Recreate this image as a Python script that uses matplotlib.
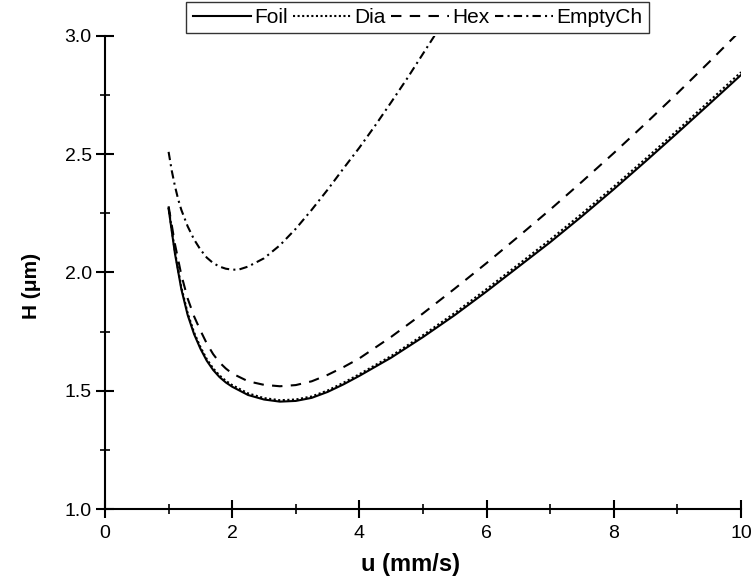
import matplotlib
matplotlib.use("Agg")
import matplotlib.pyplot as plt
from matplotlib.ticker import MultipleLocator, FormatStrFormatter

plt.rcParams["font.family"] = ["Liberation Sans", "DejaVu Sans"]

# values
u_foil = [1.0, 1.1, 1.2, 1.3, 1.4, 1.5, 1.6, 1.7, 1.8, 1.9, 2.0, 2.25, 2.5, 2.75, 3.0,
          3.25, 3.5, 3.75, 4.0, 4.5, 5.0, 5.5, 6.0, 6.5, 7.0, 7.5, 8.0, 8.5, 9.0, 9.5, 10.0]
h_foil = [2.27, 2.08, 1.93, 1.82, 1.74, 1.678, 1.627, 1.588, 1.558, 1.535, 1.517, 1.482,
          1.463, 1.454, 1.457, 1.47, 1.495, 1.527, 1.563, 1.64, 1.727, 1.82, 1.92, 2.024,
          2.128, 2.238, 2.352, 2.47, 2.59, 2.712, 2.835]

u_dia = u_foil
h_dia = [2.275, 2.088, 1.938, 1.828, 1.747, 1.685, 1.634, 1.595, 1.565, 1.542, 1.524, 1.489,
         1.469, 1.46, 1.463, 1.476, 1.501, 1.534, 1.57, 1.647, 1.735, 1.829, 1.93, 2.034,
         2.139, 2.249, 2.363, 2.481, 2.601, 2.724, 2.847]

u_hex = [1.0, 1.1, 1.2, 1.3, 1.4, 1.5, 1.6, 1.7, 1.8, 1.9, 2.0, 2.25, 2.5, 2.75, 3.0,
         3.25, 3.5, 3.75, 4.0, 4.5, 5.0, 5.5, 6.0, 6.5, 7.0, 7.5, 8.0, 8.5, 9.0, 9.5, 10.0]
h_hex = [2.28, 2.12, 1.99, 1.89, 1.815, 1.755, 1.7, 1.655, 1.62, 1.594, 1.573, 1.54, 1.525,
         1.519, 1.524, 1.54, 1.567, 1.6, 1.637, 1.728, 1.827, 1.932, 2.04, 2.152, 2.266,
         2.384, 2.505, 2.63, 2.758, 2.89, 3.025]

u_empty = [1.0, 1.05, 1.1, 1.15, 1.2, 1.3, 1.4, 1.5, 1.6, 1.7, 1.8, 1.9, 2.0, 2.1, 2.25,
           2.5, 2.75, 3.0, 3.25, 3.5, 3.75, 4.0, 4.25, 4.5, 4.75, 5.0, 5.25]
h_empty = [2.51, 2.43, 2.365, 2.31, 2.265, 2.195, 2.14, 2.097, 2.063, 2.04, 2.025, 2.016,
           2.012, 2.012, 2.025, 2.06, 2.115, 2.185, 2.265, 2.35, 2.44, 2.528, 2.622, 2.72,
           2.82, 2.925, 3.03]

fig = plt.figure(figsize=(7.51, 5.83), dpi=100)
ax = fig.add_axes([0.1398, 0.1269, 0.8469, 0.8114])

lw = 1.5
ax.plot(u_foil, h_foil, color="black", lw=lw, ls="-", label="Foil")
ax.plot(u_dia, h_dia, color="black", lw=lw, ls=(0, (1, 1.2)), label="Dia")
ax.plot(u_hex, h_hex, color="black", lw=lw, ls=(0, (5, 4)), label="Hex")
ax.plot(u_empty, h_empty, color="black", lw=lw, ls=(0, (4, 2, 1, 2)), label="EmptyCh")

ax.set_xlim(0, 10)
ax.set_ylim(1.0, 3.0)
ax.xaxis.set_major_locator(MultipleLocator(2))
ax.xaxis.set_minor_locator(MultipleLocator(1))
ax.yaxis.set_major_locator(MultipleLocator(0.5))
ax.yaxis.set_minor_locator(MultipleLocator(0.25))
ax.yaxis.set_major_formatter(FormatStrFormatter("%.1f"))

for side in ("top", "right"):
    ax.spines[side].set_visible(False)
for side in ("left", "bottom"):
    ax.spines[side].set_linewidth(1.5)
ax.tick_params(which="major", direction="inout", length=13, width=1.5, labelsize=14)
ax.tick_params(axis="x", which="major", pad=5)
ax.tick_params(axis="y", which="major", pad=3)
ax.tick_params(which="minor", direction="inout", length=7, width=1.2)

ax.set_xlabel("u (mm/s)", fontsize=17, fontweight="bold")
ax.set_ylabel("H (\u03bcm)", fontsize=15, fontweight="bold")
ax.xaxis.set_label_coords(0.48, -0.093)
ax.yaxis.set_label_coords(-0.10, 0.471)

leg = fig.legend(loc="upper center", bbox_to_anchor=(0.556, 0.997), ncol=4, fontsize=15,
                 frameon=True, fancybox=False, edgecolor="black", handlelength=2.8,
                 handletextpad=0.15, columnspacing=0.25, borderpad=0.3, borderaxespad=0)
leg.get_frame().set_linewidth(1.0)

fig.savefig("out.png", dpi=100)
